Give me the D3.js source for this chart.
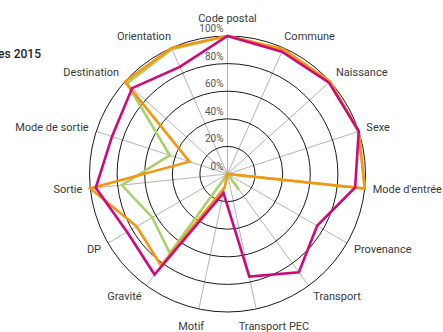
<!DOCTYPE html>
<html>
<head>
<meta charset="utf-8">
<script src="https://cdn.jsdelivr.net/npm/d3@7"></script>
<style>
    body { margin: 0; background: #fff; }
    svg { display: block; font-family: Roboto, "Noto Sans", sans-serif; }
</style>
</head>
<body>
<script>
(function(){
    // Pseudo-global variables
    var axes = ["Code postal", "Commune", "Naissance", "Sexe", "Mode d'entrée", "Provenance",
        "Transport", "Transport PEC", "Motif", "Gravité", "DP", "Sortie",
        "Mode de sortie", "Destination", "Orientation"];

    var seriesNames = ["Série verte", "Série orange", "Série magenta"];
    var greenValues   = [100, 99, 100, 100, 100, 0, 14, 0, 0, 71, 63, 77, 44, 98, 99];
    var orangeValues  = [100, 99, 100, 100, 100, 0, 0, 0, 10, 82, 76, 100, 29, 100, 100];
    var magentaValues = [100, 97, 99, 100, 93, 75, 88, 76, 14, 90, 84, 96, 88, 93, 85];
    var seriesColors = ["#a9d06b", "#f5960f", "#d1077c"];

    var ringValues = [20, 40, 60, 80, 100];
    var tickValues = [0, 20, 40, 60, 80, 100];
    var titleText = "Complétude des données 2015";

    var width = 443,
        height = 332,
        cx = 227.5,
        cy = 174,
        radius = 138;

    window.onload = setChart;

    function setChart(){
        var svg = d3.select("body")
            .append("svg")
            .attr("width", width)
            .attr("height", height);

        var rScale = d3.scaleLinear()
            .domain([0, 100])
            .range([0, radius]);

        var angle = d3.scalePoint()
            .domain(axes)
            .range([0, 2 * Math.PI * (axes.length - 1) / axes.length]);

        var g = svg.append("g")
            .attr("transform", "translate(" + cx + "," + cy + ")");

        // radial lines
        g.selectAll(".spoke")
            .data(axes)
            .enter()
            .append("line")
            .attr("class", "spoke")
            .attr("x1", 0)
            .attr("y1", 0)
            .attr("x2", d => rScale(100) * Math.sin(angle(d)))
            .attr("y2", d => -rScale(100) * Math.cos(angle(d)))
            .attr("stroke", "#b5b5b5")
            .attr("stroke-width", 1);

        // rings
        g.selectAll(".ring")
            .data(ringValues)
            .enter()
            .append("circle")
            .attr("class", "ring")
            .attr("r", d => rScale(d))
            .attr("fill", "none")
            .attr("stroke", "#1a1a1a")
            .attr("stroke-width", 1);

        // series
        var allSeries = [greenValues, orangeValues, magentaValues];
        var line = d3.lineRadial()
            .angle((d, i) => angle(axes[i]))
            .radius(d => rScale(d))
            .curve(d3.curveLinearClosed);

        g.selectAll(".series")
            .data(allSeries)
            .enter()
            .append("path")
            .attr("class", "series")
            .attr("d", d => line(d))
            .attr("fill", "none")
            .attr("stroke", (d, i) => seriesColors[i])
            .attr("stroke-width", 2.6)
            .attr("stroke-linejoin", "miter")
            .append("title")
            .text((d, i) => seriesNames[i]);

        // tick labels
        g.selectAll(".tick")
            .data(tickValues)
            .enter()
            .append("text")
            .attr("class", "tick")
            .attr("x", -4)
            .attr("y", d => -rScale(d) - 4)
            .attr("text-anchor", "end")
            .attr("font-size", 10)
            .attr("fill", "#555")
            .text(d => d + "%");

        // axis labels
        var labelR = radius + 8;
        g.selectAll(".axisLabel")
            .data(axes)
            .enter()
            .append("text")
            .attr("class", "axisLabel")
            .attr("font-size", 11)
            .attr("fill", "#3a3a3a")
            .attr("dominant-baseline", "central")
            .text(d => d)
            .each(function(d){
                var a = angle(d),
                    s = Math.sin(a),
                    c = Math.cos(a),
                    w = this.getComputedTextLength();
                var px = labelR * s,
                    py = -labelR * c;
                var frac = Math.max(0, Math.min(1, 0.5 - 1.1 * s));
                var shift = -c * 5 + (Math.abs(s) < 0.25 ? -c * 5 : 0);
                d3.select(this)
                    .attr("x", px - frac * w)
                    .attr("y", py + shift);
            });

        // title (cut off on the left, as in the reference)
        svg.append("text")
            .attr("x", 41)
            .attr("y", 57.5)
            .attr("text-anchor", "end")
            .attr("font-size", 12)
            .attr("font-weight", 500)
            .attr("fill", "#222")
            .text(titleText);
    }
})();
</script>
</body>
</html>
